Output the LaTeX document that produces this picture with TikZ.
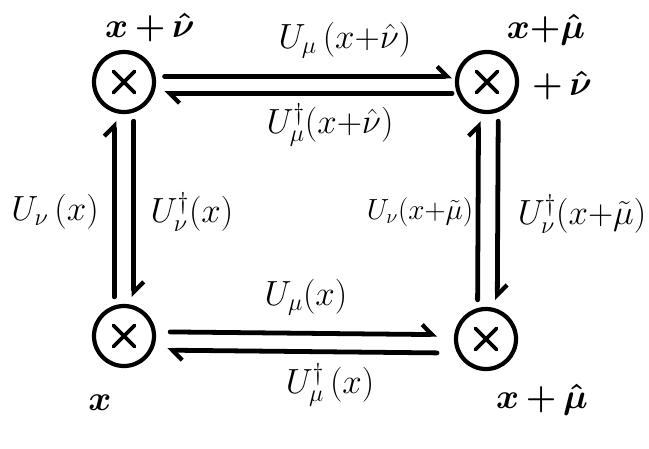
\documentclass[tikz,border=0pt]{standalone}
\usepackage{amsmath}
\usetikzlibrary{arrows.meta}
\begin{document}
\begin{tikzpicture}[x=0.025cm, y=-0.025cm,
    site/.style={draw, circle, line width=3pt, minimum size=1.5cm, inner sep=0pt,
      path picture={\draw[line width=2.6pt, line cap=round]
        (-7.5pt,-7.5pt) -- (7.5pt,7.5pt) (-7.5pt,7.5pt) -- (7.5pt,-7.5pt);}},
    link/.style={line width=3.4pt, line cap=round, -{Straight Barb[left, length=7pt, line width=3pt]}},
    lbl/.style={font=\fontsize{23}{26}\selectfont, inner sep=0pt},
    corner/.style={font=\fontsize{42}{44}\selectfont\boldmath, inner sep=0pt},
  ]
    \useasboundingbox (0,0) rectangle (649,448);

    % lattice sites
    \node[site] (xn)  at (124,82)  {};
    \node[site] (xmn) at (487,82)  {};
    \node[site] (x)   at (124,336) {};
    \node[site] (xm)  at (486,339) {};

    % site labels
    \node[corner] (lxn)  at (150,28)  {$x\,{+}\,\hat\nu$};
    \node[corner] (lxm1) at (546,30)  {$x{+}\hat\mu$};
    \node[corner] (lxm2) at (562,86)  {$+\,\hat\nu$};
    \node[corner] (lx)   at (100,403) {$x$};
    \node[corner] (lxm)  at (542,400) {$x\,{+}\,\hat\mu$};

    % top links
    \draw[link, shorten <=6pt, shorten >=2pt] ([yshift=4pt]xn.east) -- ([yshift=4pt]xmn.west);
    \draw[link, shorten <=2pt, shorten >=6pt] ([yshift=-8pt]xmn.west) -- ([yshift=-8pt]xn.east);

    % bottom links
    \draw[link, shorten <=10pt, shorten >=12pt] ([yshift=3pt]x.east) -- ([yshift=3pt]xm.west);
    \draw[link, shorten <=12pt, shorten >=8pt] ([yshift=-10pt]xm.west) -- ([yshift=-10pt]x.east);

    % left links
    \draw[link, shorten <=5pt, shorten >=5pt] ([xshift=-7pt]x.north) -- ([xshift=-7pt]xn.south);
    \draw[link, shorten <=5pt, shorten >=5pt] ([xshift=7pt]xn.south) -- ([xshift=7pt]x.north);

    % right links
    \draw[link, shorten <=5pt, shorten >=5pt] ([xshift=-6pt]xm.north) -- ([xshift=-6pt]xmn.south);
    \draw[link, shorten <=5pt, shorten >=5pt] ([xshift=8pt]xmn.south) -- ([xshift=8pt]xm.north);

    % link labels
    \node[lbl] (u1) at (345,40)  {$U_\mu\,(x{+}\hat\nu)$};
    \node[lbl] (u2) at (330,125) {$U^\dagger_\mu(x{+}\hat\nu)$};
    \node[lbl] (u3) at (55,212)  {$U_\nu\,(x)$};
    \node[lbl] (u4) at (192,212) {$U^\dagger_\nu(x)$};
    \node[lbl, font=\fontsize{20}{24}\selectfont] (u5) at (420,212) {$U_\nu(x{+}\tilde\mu)$};
    \node[lbl] (u6) at (582,214) {$U^\dagger_\nu(x{+}\tilde\mu)$};
    \node[lbl] (u7) at (306,297) {$U_\mu(x)$};
    \node[lbl] (u8) at (330,385) {$U^\dagger_\mu\,(x)$};
\end{tikzpicture}
\end{document}
